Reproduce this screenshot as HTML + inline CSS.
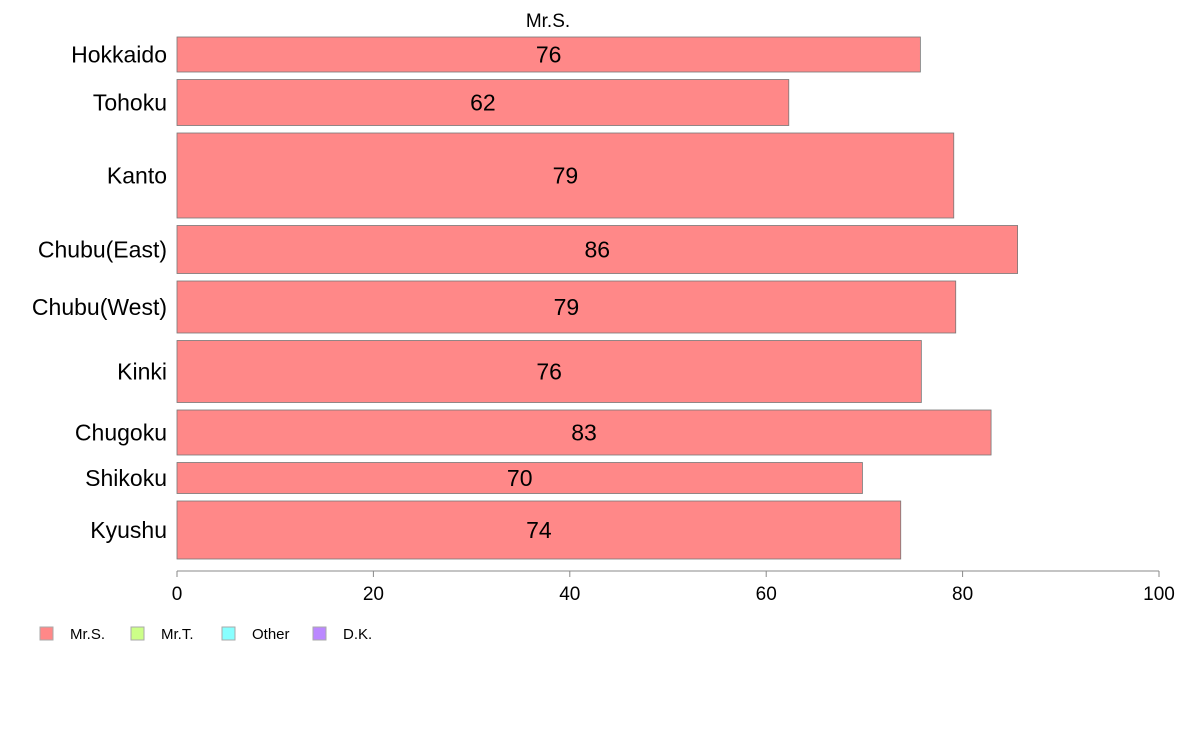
<!DOCTYPE html>
<html><head><meta charset="utf-8"><style>
html,body{margin:0;padding:0;background:#fff;}
svg{display:block;font-family:"Liberation Sans",Arial,sans-serif;}
</style></head><body>
<svg id="chart" width="1188" height="736" viewBox="0 0 1188 736" xmlns="http://www.w3.org/2000/svg">
<text x="548" y="27" font-size="19" text-anchor="middle" fill="#000">Mr.S.</text>
<g id="bars"></g>
<g id="axis"></g>
<g id="legend"></g>
</svg>
<script>
const categories = ["Hokkaido","Tohoku","Kanto","Chubu(East)","Chubu(West)","Kinki","Chugoku","Shikoku","Kyushu"];
const values = [75.7,62.3,79.1,85.6,79.3,75.8,82.9,69.8,73.7];
const labels = ["76","62","79","86","79","76","83","70","74"];
const weights = [35,46,85,48,52,62,45,31,58];
const ticks = [0,20,40,60,80,100];
const legendNames = ["Mr.S.","Mr.T.","Other","D.K."];
const legendColors = ["#ff8888","#ccff88","#88ffff","#bb88ff"];

const NS="http://www.w3.org/2000/svg";
const x0=177,x1=1159,yTop=37,yBot=559,gap=7.5;
function xScale(v){return x0+(v-0)/(100-0)*(x1-x0);}
const totalW=weights.reduce((a,b)=>a+b,0);
const unit=(yBot-yTop-gap*(weights.length-1))/totalW;
function mk(tag,attrs,parent){const e=document.createElementNS(NS,tag);for(const k in attrs)e.setAttribute(k,attrs[k]);parent.appendChild(e);return e;}
const gb=document.getElementById('bars');
let y=yTop;
categories.forEach((c,i)=>{
  const h=weights[i]*unit;
  const r=mk('rect',{x:x0,y:y,width:xScale(values[i])-x0,height:h,fill:'#ff8888',stroke:'#777','stroke-width':0.8},gb);
  
  
  const t=mk('text',{x:(x0+xScale(values[i]))/2,y:y+h/2+8,'font-size':23,'text-anchor':'middle',fill:'#000'},gb);
  t.textContent=labels[i];
  
  
  const l=mk('text',{x:167,y:y+h/2+8,'font-size':23,'text-anchor':'end',fill:'#000'},gb);
  l.textContent=c;
  
  
  y+=h+gap;
});
const ga=document.getElementById('axis');
const al=mk('line',{x1:x0,x2:x1,y1:571,y2:571,stroke:'#888','stroke-width':1},ga);


ticks.forEach(v=>{
  const tk=mk('line',{x1:xScale(v),x2:xScale(v),y1:571,y2:577,stroke:'#888','stroke-width':1},ga);
  
  
  const tl=mk('text',{x:xScale(v),y:600,'font-size':19,'text-anchor':'middle',fill:'#000'},ga);
  tl.textContent=v;
  
  
});
const gl=document.getElementById('legend');
legendNames.forEach((n,i)=>{
  const bx=40+i*91;
  const b=mk('rect',{x:bx,y:627,width:13,height:13,fill:legendColors[i],stroke:'#aaa','stroke-width':1},gl);
  
  
  const t=mk('text',{x:bx+30,y:639,'font-size':15,fill:'#000'},gl);
  t.textContent=n;
  
  
});
</script>
</body></html>
